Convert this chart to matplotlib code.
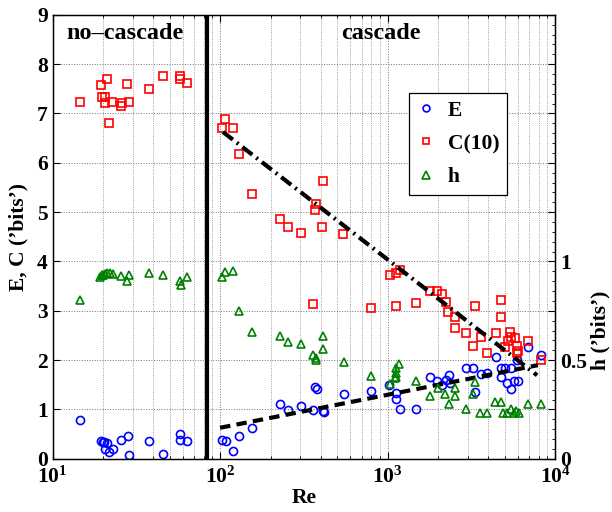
import matplotlib

matplotlib.use("Agg")

import matplotlib.pyplot as plt
import numpy as np
from matplotlib.ticker import AutoMinorLocator, FixedLocator, FuncFormatter

plt.rcParams["font.family"] = ["Liberation Serif", "DejaVu Serif"]
plt.rcParams["font.weight"] = "bold"
plt.rcParams["mathtext.fontset"] = "custom"
plt.rcParams["mathtext.rm"] = "Liberation Serif:bold"
plt.rcParams["mathtext.it"] = "Liberation Serif:bold"
plt.rcParams["mathtext.bf"] = "Liberation Serif:bold"

# E (bits) vs Re
e_re = [14.5, 19.5, 20.0, 20.4, 21.2, 20.6, 21.8, 22.9, 25.7, 28.1, 28.4, 37.8, 45.4, 57.6, 57.6, 63.8,
        103, 108, 120, 130, 154, 229, 256, 306, 361, 371, 377, 409, 417, 546, 796, 1023, 1122, 1122,
        1180, 1486, 1783, 1973, 2114, 2234, 2328, 2371, 2954, 3240, 3342, 3614, 3928, 4424, 4722, 5036,
        4722, 5176, 5470, 5670, 5980, 5929, 5485, 6900, 8220]
e_val = [0.78, 0.36, 0.34, 0.34, 0.31, 0.19, 0.13, 0.19, 0.38, 0.46, 0.07, 0.36, 0.10, 0.51, 0.38, 0.37,
         0.38, 0.36, 0.16, 0.46, 0.63, 1.11, 0.99, 1.07, 0.99, 1.45, 1.41, 0.97, 0.95, 1.31, 1.37, 1.49, 1.34, 1.22,
         1.01, 1.01, 1.65, 1.58, 1.49, 1.59, 1.70, 1.54, 1.84, 1.84, 1.36, 1.71, 1.73, 2.07, 1.84, 1.84,
         1.66, 1.53, 1.42, 1.57, 1.58, 2.00, 1.85, 2.26, 2.10]

# C(10) (bits) vs Re
c_re = [14.5, 19.5, 21.0, 19.6, 20.6, 20.5, 22.7, 21.8, 25.7, 25.9, 28.4, 27.9, 37.8, 45.4, 57.6, 57.6, 63.8,
        107, 102, 119, 130, 154, 414, 376, 371, 227, 256, 306, 407, 544, 361, 800, 1038, 1122, 1180, 1122,
        1486, 1800, 1973, 2114, 2234, 2296, 2516, 2541, 2942, 3329, 3240, 3614, 3928, 4424, 4764, 4786,
        5036, 5216, 5408, 5485, 5742, 5929, 5980, 5929, 6900, 8220]
c_val = [7.24, 7.57, 7.70, 7.33, 7.33, 7.21, 7.24, 6.81, 7.16, 7.21, 7.23, 7.60, 7.50, 7.77, 7.77, 7.69, 7.62,
         6.89, 6.70, 6.70, 6.18, 5.37, 5.64, 5.16, 5.04, 4.87, 4.69, 4.58, 4.70, 4.56, 3.14, 3.05, 3.73, 3.76, 3.83, 3.09,
         3.15, 3.41, 3.41, 3.35, 3.18, 2.98, 2.87, 2.66, 2.54, 3.10, 2.29, 2.47, 2.14, 2.54, 3.22, 2.87,
         2.27, 2.39, 2.57, 2.47, 2.44, 2.29, 2.19, 2.14, 2.39, 2.00]

# h (bits, right axis) vs Re
h_re = [14.5, 19.2, 19.6, 20.1, 20.5, 21.2, 22.0, 22.8, 25.7, 27.9, 28.4, 37.8, 45.4, 57.6, 58.4, 63.8,
        102, 107, 120, 130, 154, 229, 256, 306, 414, 409, 361, 375, 373, 546, 800, 1038, 1122, 1128, 1175,
        1112, 1122, 1486, 1783, 1990, 2193, 2317, 2541, 2541, 2954, 3342, 3240, 3581, 3928, 4395, 4764,
        4898, 5176, 5470, 5670, 5875, 6064, 6900, 8220]
h_val = [0.805, 0.92, 0.93, 0.93, 0.935, 0.94, 0.94, 0.935, 0.925, 0.90, 0.93, 0.94, 0.93, 0.90, 0.88, 0.92,
         0.92, 0.945, 0.95, 0.75, 0.64, 0.62, 0.59, 0.58, 0.62, 0.555, 0.525, 0.51, 0.50, 0.49, 0.42, 0.38, 0.415, 0.435, 0.48,
         0.41, 0.46, 0.395, 0.32, 0.36, 0.33, 0.28, 0.36, 0.32, 0.25, 0.39, 0.33, 0.23, 0.23, 0.29, 0.29,
         0.23, 0.23, 0.25, 0.23, 0.24, 0.23, 0.28, 0.28]

# log-linear fits in the cascade regime: value = a + b * log10(Re)
c_fit = (11.93, -2.63)
c_fit_re = [104, 7810]
e_fit = (-0.71, 0.669)
e_fit_re = [100, 7890]

re_transition = 83.3

fig = plt.figure(figsize=(6.12, 5.12), dpi=100)
ax = fig.add_axes([0.086, 0.104, 0.821, 0.867])
ax2 = ax.twinx()

mk = dict(linestyle="none", markerfacecolor="none", markeredgewidth=1.2)
l_e, = ax.plot(e_re, e_val, marker="o", markersize=5.8, color="#0000ff", label="E", **mk)
l_c, = ax.plot(c_re, c_val, marker="s", markersize=5.2, color="#ff0000", label="C(10)", **mk)
l_h, = ax2.plot(h_re, h_val, marker="^", markersize=6.2, color="#008000", label="h", **mk)

for (a, b), rng, ls in [(c_fit, c_fit_re, (0, (3, 1.2, 0.5, 1.2))), (e_fit, e_fit_re, (0, (2.5, 1.5)))]:
    xs = np.array(rng, dtype=float)
    ax.plot(xs, a + b * np.log10(xs), color="black", linewidth=3, linestyle=ls)

ax.axvline(re_transition, color="black", linewidth=3)

ax.set_xscale("log")
ax.set_xlim(10, 1e4)
ax.set_ylim(0, 9)
ax.set_yticks(range(0, 10))
ax2.set_ylim(0, 2.25)
ax2.yaxis.set_major_locator(FixedLocator(np.arange(0, 2.26, 0.25)))
ax2.yaxis.set_major_formatter(FuncFormatter(lambda v, p: {0: "0", 0.5: "0.5", 1: "1"}.get(round(v, 2), "")))
ax2.yaxis.set_minor_locator(AutoMinorLocator(5))

ax.xaxis.set_major_formatter(FuncFormatter(lambda v, p: r"$10^{%d}$" % round(np.log10(v))))
ax.grid(True, which="major", linestyle=":", color="0.45", linewidth=0.7)
ax.grid(True, which="minor", axis="x", linestyle=":", color="0.5", linewidth=0.6)

for a in (ax, ax2):
    a.tick_params(which="both", direction="in", labelsize=15.5, top=True)
    a.tick_params(which="major", length=5, width=0.8)
    a.tick_params(which="minor", length=2.5, width=0.6)
ax.tick_params(axis="y", right=False)
ax.tick_params(axis="x", pad=6)
ax2.tick_params(axis="y", which="minor", length=2)

ax.set_xlabel("Re", fontsize=15.5, fontweight="bold", labelpad=0)
ax.set_ylabel("E, C (’bits’)", fontsize=15.5, fontweight="bold", labelpad=6)
ax2.set_ylabel("h (’bits’)", fontsize=15.5, fontweight="bold")
ax2.yaxis.set_label_coords(1.07, 0.29)

ax.text(27.1, 8.63, "no–cascade", fontsize=17.5, fontweight="bold", ha="center", va="center")
ax.text(910, 8.63, "cascade", fontsize=17.5, fontweight="bold", ha="center", va="center")

leg = ax2.legend([l_e, l_c, l_h], ["E", "C(10)", "h"], loc="upper left", bbox_to_anchor=(0.709, 0.824),
                 borderaxespad=0, fontsize=15.5, frameon=True, fancybox=False, framealpha=1, edgecolor="black",
                 handlelength=0.9, handletextpad=0.55, borderpad=0.35, labelspacing=0.62, markerscale=0.85)
leg.get_frame().set_linewidth(0.9)

for s in ax.spines.values():
    s.set_linewidth(1.0)

fig.savefig("out.png", dpi=100)
